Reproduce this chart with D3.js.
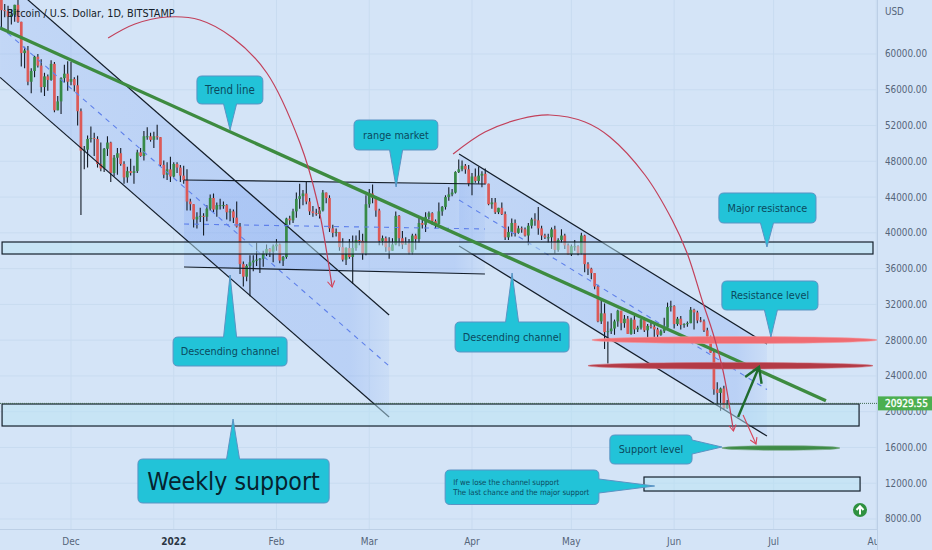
<!DOCTYPE html>
<html><head><meta charset="utf-8">
<script src="https://cdn.jsdelivr.net/npm/d3@7"></script>
<style>html,body{margin:0;padding:0;background:#d4e4f7;overflow:hidden}svg{display:block}text{font-family:"DejaVu Sans Condensed","DejaVu Sans",sans-serif}</style>
</head><body><svg id="c" width="932" height="550"></svg>
<script>
// ---- data ----
const firstDate = "2021-11-10";
const firstOpen = 66900;
const closes = [64900,64800,64200,64400,65500,63600,60100,60400,56900,58100,59700,58700,56300,57500,57100,58900,53700,54700,57300,57800,56900,
57200,56500,53600,49200,49300,50500,50600,50500,47700,47200,49400,50100,46700,48400,48900,47700,46200,46900,46700,46900,49000,48600,50800,50800,50400,50800,50700,47600,46500,47100,46300,
47700,47300,46400,45900,43500,43200,41500,41800,41900,41800,42700,43900,42600,43100,43100,43100,42300,42400,41700,40700,36500,35100,36300,36700,36900,37000,37100,37700,38200,37900,38500,
38700,36900,37300,41600,41400,42400,43800,44100,44400,43500,42400,42200,42100,42500,44500,43900,40500,40000,40100,38400,37000,38300,37300,38300,39200,39100,37700,43200,
44400,43900,42500,39100,39400,38400,38000,38700,41900,39400,38700,38800,37800,39700,39300,41100,40900,41800,42200,41300,41000,42400,42900,44000,44300,44500,46800,47100,47500,47100,45500,
46300,45800,46400,46600,45500,43200,43400,42300,42800,42100,39500,40100,41100,40000,40500,40400,39700,40800,41500,41400,40500,39700,39500,39500,40400,38100,39200,39700,38600,37600,
38500,38500,37700,39700,36500,36000,35500,34000,30100,31000,28900,29000,29300,30100,31300,29900,30400,28700,30300,29200,29400,30300,29100,29600,29500,29200,28600,29000,29400,31700,31800,
29800,30400,29700,29800,29900,31400,31100,30200,30100,29100,28400,26600,22500,22100,22600,20400,20929.55];
const highs = [69000,65600,65400,65000,65500,66300,63600,60800,60900,58400,59800,60000,59400,57900,57700,59300,59100,55300,57400,58800,59200,
59100,57400,57600,53900,49700,50900,51900,51200,50800,50100,49500,50800,50200,48700,49500,49500,48000,47400,48300,47500,49300,49500,51400,51800,51200,51300,52100,50700,48100,47900,48500,
47900,47900,47600,47500,47100,43800,43200,42300,42800,42200,43100,44300,44400,43400,43800,43500,43200,42700,42600,43500,41100,36800,36500,37500,37500,38900,37200,38000,38700,38300,38700,
39300,38800,37400,41700,41900,42700,44500,45500,44800,45800,43900,43000,42700,42900,44800,44500,44200,40900,40500,40100,39400,38400,39300,39700,39700,40300,39900,44200,
44900,45400,44100,42700,39700,39600,39500,39400,42400,42000,40200,39500,39300,39900,39900,41700,41500,42300,42400,42300,41500,43400,43000,44200,45100,44900,46900,48200,48100,47700,47600,
46700,47200,47400,46900,47200,45500,43900,43900,42800,43400,42400,40700,41600,41500,40800,40700,40600,41100,41700,42200,42900,40800,39900,39900,40600,40800,39400,40400,39900,38800,
38700,39200,38600,40000,39800,36700,36100,35500,34200,32700,32100,30100,31000,30300,31400,31300,30800,30700,30500,30700,29600,30400,30600,29800,30200,29800,29400,29200,30500,32200,32400,
31900,30600,30700,29900,30100,31700,31500,31300,30600,30300,29400,28500,26800,23300,22700,22900,21300];
const lows = [62800,64100,62300,63300,63600,63500,58600,58400,56500,55600,57400,58500,55700,55300,55900,57000,53500,53700,53300,56800,55900,
56500,55800,52000,42000,47100,47300,50100,48600,47300,46900,46800,48600,45700,46300,46500,47500,45500,45600,46400,45500,46700,48500,48100,50400,50200,49500,50400,47400,46100,45900,45700,
46200,46700,45700,45500,42500,42500,40600,40500,41200,39700,41300,42500,42300,41800,42600,42700,41500,41300,41100,40600,35400,34000,34600,32900,35700,36300,35500,36200,37400,37300,36700,
38000,36600,36300,37100,40900,41100,41700,42700,43100,43200,42000,41800,41900,41600,42400,43300,40100,39500,39600,38000,36800,36400,37100,34300,38000,38600,37000,37500,
42800,43300,41800,38600,38600,37900,37100,38000,38600,38500,38200,38700,37600,37600,38100,38900,40500,40100,41500,40900,40500,40900,41900,42600,43600,44100,44400,46700,46900,46600,45200,
44200,45600,45500,45100,45400,43100,42700,42100,42100,42000,39200,39200,39600,39600,39900,40000,39600,38600,40500,40800,39800,39200,39300,38900,38200,37700,37900,38900,38200,37600,
37400,38000,37500,37600,35600,35300,34800,33700,30000,29800,27000,25400,28700,28600,29500,29100,29400,28700,28600,28700,28900,29200,28900,28300,29300,28000,28300,28500,28800,29300,31200,
29300,29600,29200,29400,29500,29900,29200,29900,30000,28900,28100,26600,21900,20800,20100,20200,20300];

const priceTicks = [60000,56000,52000,48000,44000,40000,36000,32000,28000,24000,20000,16000,12000,8000];
const timeTicks = [["2021-12-01","Dec",false],["2022-01-01","2022",true],["2022-02-01","Feb",false],["2022-03-01","Mar",false],["2022-04-01","Apr",false],["2022-05-01","May",false],["2022-06-01","Jun",false],["2022-07-01","Jul",false],["2022-08-01","Aug",false]];
const chartTitle = "Bitcoin / U.S. Dollar, 1D, BITSTAMP";
const currency = "USD";

// drawings, in [days since 1 Dec 2021, price]
const channelWide = {from:-21.4,to:96.0,top:[68770,30810],mid:[63075,25109],bottom:[57390,19410]};
const channelRange = {from:34.1,to:124.9,top:[45910,45462],mid:[40989,40430],bottom:[36180,35397]};
const channelLate = {from:117.1,to:210.0,top:[48817,27569],mid:[43673,22481],bottom:[38529,17281]};
const trendLine = [[-21.4,62908],[227.8,21229]];
const zones = [[-20.8,242.0,38976,37634],[-20.8,237.8,20860,18399],[172.9,238.1,12696,11130]];
const lensLight = [157.2,243.2,28016];
const lensDark = [156.0,242.0,25142];
const lensGreen = [196.4,232.0,15940];
const arcOne = [[11.2,61789],[19.3,63355],[29.0,64138],[38.9,63802],[48.9,61789],[59.1,57875],[69.1,50047],[74.2,43673],[78.8,33944]];
const arcTwo = [[115.3,48817],[124.9,51277],[135.5,52731],[144.5,53178],[155.1,52396],[162.6,50718],[173.2,46469],[181.4,41436],[185.9,37746],[190.7,32155],[193.7,28799],[196.7,24662],[199.9,17840]];
const dropArrow = [[202.8,19630],[206.7,16386]];
const bounceArrow = [[201.3,19406],[207.6,25002]];
const calloutTexts = ["Trend line","range market","Descending channel","Descending channel","Major resistance","Resistance level","Support level","Weekly support"];
const calloutBoxes = [[38.0,57.9,57540,54409],[85.4,110.7,52619,49264],[30.8,65.2,28352,25109],[115.9,150.3,30030,26675],[195.5,224.8,44456,41101],[196.4,225.4,34615,31372],[162.6,187.4,17393,14150],[20.2,77.9,14709,9789]];
const calloutTips = [[48.0,51501],[98.1,45127],[48.0,35286],[133.1,35509],[210.0,38417],[211.2,28352],[196.4,16051],[48.9,19182]];
const noteLines = ["If we lose the channel support","The last chance and the major support"];
const noteBox = [112.9,159.3,13479,9620];
const noteTip = [176.1,11689];
const lastPrice = 20929.55;

// ---- scales ----
const W=932,H=550,plotR=877,plotB=529;
const day0=new Date(2021,11,1);
const xDay=d3.scaleLinear().domain([0,243]).range([71,71+243*3.314]);
const dayOf=s=>{const [a,b,c]=s.split("-").map(Number);return Math.round((new Date(a,b-1,c)-day0)/864e5)};
const y=d3.scaleLinear().domain([60000,8000]).range([54,519]);
const pt=p=>[xDay(p[0]),y(p[1])];

const svg=d3.select("#c");
svg.append("rect").attr("width",W).attr("height",H).attr("fill","#d4e4f7");
const defs=svg.append("defs");
defs.append("clipPath").attr("id","plot").append("rect").attr("width",plotR).attr("height",plotB);
defs.append("clipPath").attr("id","timeAxis").append("rect").attr("y",plotB).attr("width",plotR).attr("height",H-plotB);
const grad=defs.append("linearGradient").attr("id","fade");
[[0,.2],[.5,.27],[.9,.29],[1,.1]].forEach(s=>grad.append("stop").attr("offset",s[0]).attr("stop-color","#7aa2f2").attr("stop-opacity",s[1]));
const g=svg.append("g").attr("clip-path","url(#plot)");

// grid
g.selectAll(".gy").data(priceTicks).join("line").attr("x1",0).attr("x2",plotR).attr("y1",d=>y(d)).attr("y2",d=>y(d)).attr("stroke","#c8dbf0").attr("stroke-width",1);
g.selectAll(".gx").data(timeTicks).join("line").attr("y1",0).attr("y2",plotB).attr("x1",d=>xDay(dayOf(d[0]))).attr("x2",d=>xDay(dayOf(d[0]))).attr("stroke","#c8dbf0").attr("stroke-width",1);

// channels
[channelWide,channelRange,channelLate].forEach(c=>{
  const ps=[[c.from,c.top[0]],[c.to,c.top[1]],[c.to,c.bottom[1]],[c.from,c.bottom[0]]].map(pt);
  g.append("path").attr("d","M"+ps.join("L")+"Z").attr("fill","url(#fade)");
});

// candles
const start=dayOf(firstDate);
const candles=closes.map((c,i)=>({d:start+i,o:i?closes[i-1]:firstOpen,h:highs[i],l:lows[i],c}));
const cg=g.append("g");
cg.selectAll("line").data(candles).join("line").attr("x1",d=>xDay(d.d)).attr("x2",d=>xDay(d.d)).attr("y1",d=>y(d.h)).attr("y2",d=>y(d.l)).attr("stroke","#141c26").attr("stroke-width",1.1);
cg.selectAll("rect").data(candles).join("rect").attr("x",d=>xDay(d.d)-1.35).attr("width",2.7)
  .attr("y",d=>y(Math.max(d.o,d.c))).attr("height",d=>Math.max(1,Math.abs(y(d.o)-y(d.c))))
  .attr("fill",d=>d.c>=d.o?"#378a47":"#dc5a58");

// channel lines
const line=d3.line();
[channelWide,channelRange,channelLate].forEach(c=>{
  [c.top,c.bottom].forEach(v=>g.append("path").attr("d",line([[c.from,v[0]],[c.to,v[1]]].map(pt))).attr("fill","none").attr("stroke","#141e2a").attr("stroke-width",1.2));
  g.append("path").attr("d",line([[c.from,c.mid[0]],[c.to,c.mid[1]]].map(pt))).attr("fill","none").attr("stroke","#5f80ea").attr("stroke-width",1.1).attr("stroke-dasharray","5 5");
});

// zones
zones.forEach(z=>g.append("rect").attr("x",xDay(z[0])).attr("width",xDay(z[1])-xDay(z[0])).attr("y",y(z[2])).attr("height",y(z[3])-y(z[2]))
  .attr("fill","#b9e4f3").attr("fill-opacity",0.5).attr("stroke","#14202c").attr("stroke-width",1.2));

// last price line
g.append("line").attr("x1",0).attr("x2",plotR).attr("y1",y(lastPrice)).attr("y2",y(lastPrice)).attr("stroke","#3f6a4f").attr("stroke-width",1).attr("stroke-dasharray","1 1");

// trend line
g.append("path").attr("d",line(trendLine.map(pt))).attr("stroke","#3d8b40").attr("stroke-width",3.4).attr("fill","none");

// lenses
function lens(l,fill,stroke,ry){
  const x0=xDay(l[0]),x1=xDay(l[1]);
  g.append("ellipse").attr("cx",(x0+x1)/2).attr("cy",y(l[2])).attr("rx",(x1-x0)/2).attr("ry",ry).attr("fill",fill).attr("stroke",stroke).attr("stroke-width",.6);
}
lens(lensLight,"#ef6b72","#f29aa0",3.5);
lens(lensDark,"#b33a46","#d0707a",3.3);
lens(lensGreen,"#3d8b45","#7aa98a",2.3);

// arcs & arrows
function head(ps,color,w,len){
  const a=ps[ps.length-1],b=ps[ps.length-2],t=Math.atan2(a[1]-b[1],a[0]-b[0]);
  const arm=s=>[a[0]-len*Math.cos(t+s),a[1]-len*Math.sin(t+s)];
  g.append("path").attr("d",line([arm(.55),a,arm(-.55)])).attr("fill","none").attr("stroke",color).attr("stroke-width",w);
}
const curve=d3.line().curve(d3.curveCatmullRom);
[arcOne,arcTwo].forEach(a=>{
  const ps=a.map(pt);
  g.append("path").attr("d",curve(ps)).attr("fill","none").attr("stroke","#c2405a").attr("stroke-width",1.2);
  head(ps.slice(-2),"#d8455a",1.1,7);
});
const dp=dropArrow.map(pt);
g.append("path").attr("d",line(dp)).attr("stroke","#d8455a").attr("stroke-width",1.1).attr("fill","none");head(dp,"#d8455a",1.1,7);
const bp=bounceArrow.map(pt);
g.append("path").attr("d",line(bp)).attr("stroke","#1f6b2e").attr("stroke-width",2.4).attr("fill","none");head(bp,"#1f6b2e",2.4,17);

// callouts
function callout(box,tip){
  const x0=xDay(box[0]),x1=xDay(box[1]),y0=y(box[2]),y1=y(box[3]),t=pt(tip),r=5;
  const hw=6.5;let d;
  const above=t[1]<y0,below=t[1]>y1,right=t[0]>x1;
  d=`M${x0+r},${y0}`;
  if(above)d+=`L${t[0]-hw},${y0}L${t[0]},${t[1]}L${t[0]+hw},${y0}`;
  d+=`L${x1-r},${y0}Q${x1},${y0} ${x1},${y0+r}`;
  if(right)d+=`L${x1},${t[1]-7}L${t[0]},${t[1]}L${x1},${t[1]+7}`;
  d+=`L${x1},${y1-r}Q${x1},${y1} ${x1-r},${y1}`;
  if(below)d+=`L${t[0]+hw},${y1}L${t[0]},${t[1]}L${t[0]-hw},${y1}`;
  d+=`L${x0+r},${y1}Q${x0},${y1} ${x0},${y1-r}L${x0},${y0+r}Q${x0},${y0} ${x0+r},${y0}Z`;
  g.append("path").attr("d",d).attr("fill","#22c3d8").attr("stroke","#5b93c4").attr("stroke-width",1);
  return [x0,x1,y0,y1];
}
calloutTexts.forEach((t,i)=>{
  const [x0,x1,y0,y1]=callout(calloutBoxes[i],calloutTips[i]);
  const big=t==="Weekly support";
  g.append("text").attr("x",(x0+x1)/2).attr("y",(y0+y1)/2).attr("dy",".35em").attr("text-anchor","middle")
   .attr("font-size",big?24.7:(t==="Trend line"?11.4:10.8)).attr("fill",big?"#06222e":"#0b4a5e").text(t);
});
{
  const [x0,x1,y0,y1]=callout(noteBox,noteTip);
  noteLines.forEach((t,i)=>g.append("text").attr("x",x0+8).attr("y",(y0+y1)/2+(i-.5)*9.5).attr("dy",".35em").attr("font-size",7.8).attr("fill","#0b4a5e").text(t));
}

// axes
svg.append("line").attr("x1",plotR+.5).attr("x2",plotR+.5).attr("y1",0).attr("y2",H).attr("stroke","#bccfe6");
svg.append("line").attr("x1",0).attr("x2",plotR).attr("y1",plotB+.5).attr("y2",plotB+.5).attr("stroke","#bccfe6");
svg.selectAll(".pl").data(priceTicks).join("text").attr("x",885).attr("y",d=>y(d)).attr("dy",".35em").attr("font-size",9.8).attr("fill","#55657a").text(d=>d3.format(".2f")(d));
svg.append("text").attr("x",885).attr("y",12).attr("dy",".35em").attr("font-size",9.8).attr("fill","#55657a").text(currency);
svg.append("g").attr("clip-path","url(#timeAxis)").selectAll("text").data(timeTicks).join("text").attr("x",d=>xDay(dayOf(d[0]))).attr("y",541).attr("dy",".35em").attr("text-anchor","middle").attr("font-size",10).attr("font-weight",d=>d[2]?700:400).attr("fill",d=>d[2]?"#2a3542":"#55657a").text(d=>d[1]);

// last price tag
svg.append("rect").attr("x",878).attr("y",y(lastPrice)-7).attr("width",54).attr("height",14).attr("fill","#4caf50");
svg.append("text").attr("x",885).attr("y",y(lastPrice)).attr("dy",".35em").attr("font-size",10).attr("fill","#fff").attr("stroke","#fff").attr("stroke-width",.35).text(d3.format(".2f")(lastPrice));

// title
svg.append("text").attr("x",7).attr("y",13).attr("dy",".35em").attr("font-size",10.8).attr("fill","#141d28").text(chartTitle);

// up-arrow badge
const badge=svg.append("g").attr("transform","translate(860,510)");
badge.append("circle").attr("r",7).attr("fill","#2e9140");
badge.append("path").attr("d","M0,4.5V-3.5M-3.5,0L0,-3.8L3.5,0").attr("fill","none").attr("stroke","#fff").attr("stroke-width",2);
</script></body></html>
